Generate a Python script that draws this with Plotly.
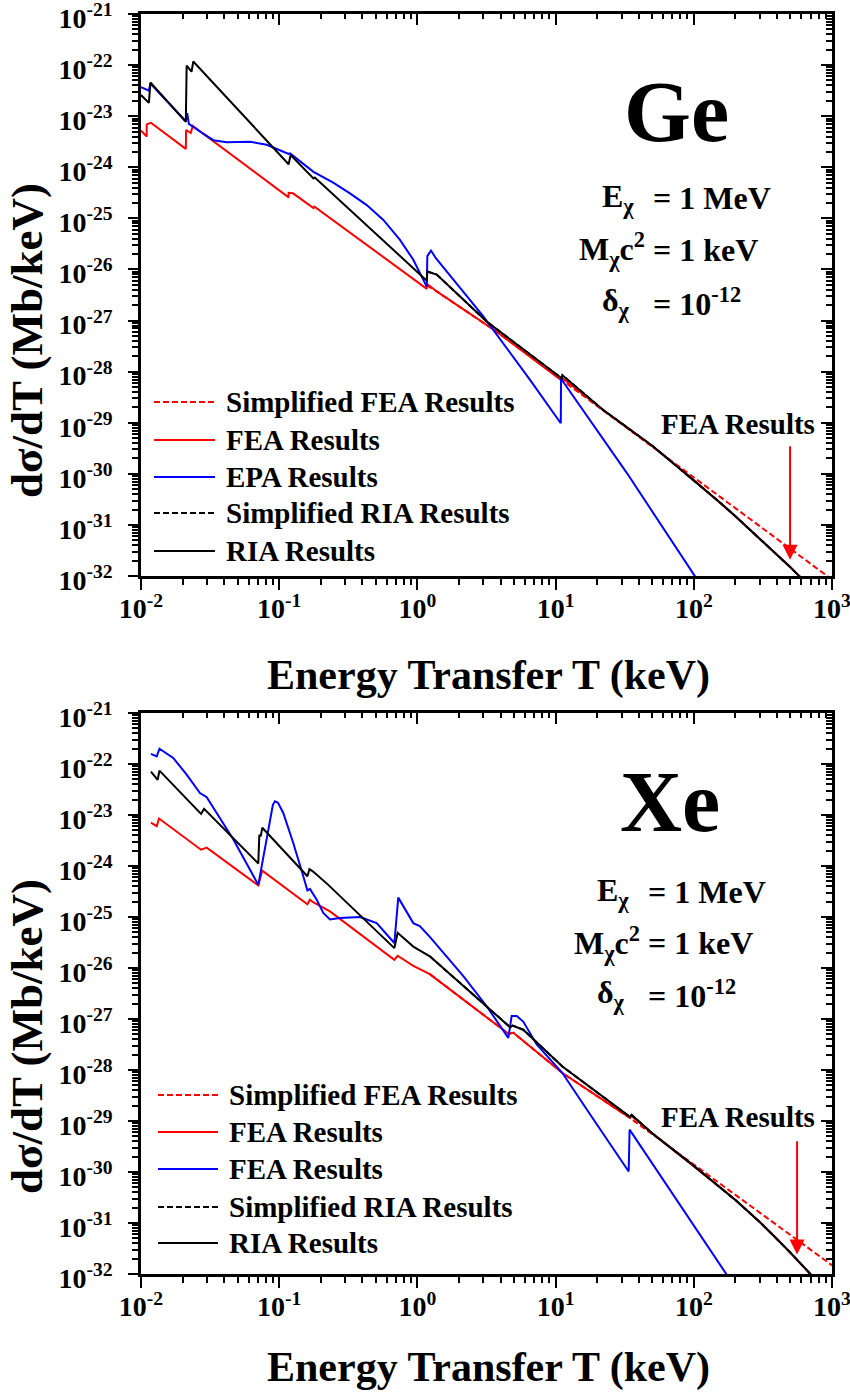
import numpy as np
import plotly.graph_objects as go

W, H = 850, 1396

# ---------------- Ge panel (T in keV ; values given as log10 of dσ/dT in Mb/keV) ----------------
ge_fea_T = [0.0100, 0.0110, 0.0110, 0.0118, 0.0211, 0.0212, 0.0229, 0.0237, 0.117, 0.117, 0.126,
            0.177, 0.180, 1.17, 1.17, 1.20, 1.38, 3.75, 11.0, 11.2, 22.1, 50, 100, 150, 200, 300, 400,
            500, 620]
ge_fea_log = [-23.28, -23.40, -23.16, -23.13, -23.64, -23.27, -23.33, -23.19, -24.59, -24.50, -24.51,
              -24.80, -24.77, -26.38, -26.31, -26.30, -26.43, -27.22, -28.17, -28.13, -28.75, -29.45,
              -30.12, -30.53, -30.83, -31.27, -31.58, -31.83, -32.08]

ge_sfea_T = [1.17, 1.38, 3.75, 11.07, 20, 50, 100, 200, 500, 1000]
ge_sfea_log = [-26.31, -26.43, -27.22, -28.16, -28.67, -29.47, -30.07, -30.67, -31.47, -32.07]

ge_epa_T = [0.0100, 0.0114, 0.0117, 0.0211, 0.0216, 0.0222, 0.0267, 0.0334, 0.0417, 0.0615, 0.0812,
            0.117, 0.120, 0.177, 0.246, 0.325, 0.430, 0.567, 0.748, 0.934, 1.17, 1.18, 1.254, 1.36,
            3.0, 6.53, 10.9, 10.95, 32.9, 101.6, 110]
ge_epa_log = [-22.43, -22.50, -22.36, -23.10, -22.94, -23.15, -23.30, -23.47, -23.51, -23.50, -23.56,
              -23.74, -23.73, -24.09, -24.30, -24.51, -24.74, -25.03, -25.42, -25.81, -26.34, -25.74,
              -25.63, -25.78, -26.92, -28.16, -29.01, -28.14, -29.99, -32.0, -32.14]

ge_ria_T = [0.0100, 0.0114, 0.0117, 0.0211, 0.0214, 0.0232, 0.0239, 0.117, 0.121, 0.177, 0.181, 1.17,
            1.18, 1.38, 3.17, 11.07, 11.2, 22.1, 50, 100, 150, 200, 300, 400, 500, 620]
ge_ria_log = [-22.585, -22.74, -22.34, -23.11, -22.01, -22.13, -21.93, -23.94, -23.76, -24.22, -24.20,
              -26.22, -26.04, -26.10, -27.02, -28.13, -28.07, -28.75, -29.45, -30.12, -30.53, -30.83,
              -31.27, -31.58, -31.83, -32.08]

ge_sria_T = [1.18, 1.38, 3.17, 11.07, 11.2, 22.1, 50, 100, 150, 200, 300, 400, 500, 620]
ge_sria_log = [-26.04, -26.10, -27.02, -28.13, -28.07, -28.75, -29.45, -30.12, -30.53, -30.83, -31.27,
               -31.58, -31.83, -32.08]

# ---------------- Xe panel ----------------
xe_fea_T = [0.0118, 0.0130, 0.0135, 0.0272, 0.0299, 0.0706, 0.0755, 0.160, 0.167, 0.176, 0.233, 0.681,
            0.720, 0.934, 1.23, 4.55, 4.95, 11.2, 34.5, 35.5, 50, 100, 150, 200, 300, 400, 500, 600,
            698, 750]
xe_fea_log = [-23.15, -23.22, -23.07, -23.68, -23.64, -24.38, -24.09, -24.75, -24.66, -24.71, -24.89,
              -25.84, -25.76, -25.96, -26.12, -27.29, -27.27, -28.06, -28.94, -28.90, -29.24, -29.88,
              -30.27, -30.55, -30.98, -31.31, -31.58, -31.81, -32.00, -32.09]

xe_sfea_T = [1.23, 4.55, 4.95, 11.2, 34.5, 100, 300, 1000]
xe_sfea_log = [-26.12, -27.29, -27.27, -28.06, -28.94, -29.85, -30.79, -31.83]

xe_epa_T = [0.0118, 0.0130, 0.0136, 0.0171, 0.0214, 0.0267, 0.0299, 0.0353, 0.0466, 0.0706, 0.0812,
            0.086, 0.090, 0.0932, 0.098, 0.107, 0.1264, 0.1494, 0.160, 0.167, 0.1867, 0.2085, 0.233,
            0.2754, 0.3843, 0.5075, 0.681, 0.727, 0.792, 0.934, 1.04, 1.23, 2.15, 3.17, 4.55, 4.81,
            5.23, 5.83, 7.30, 11.2, 18.5, 33.8, 34.3, 171, 185]
xe_epa_log = [-21.80, -21.85, -21.70, -21.88, -22.21, -22.57, -22.65, -22.96, -23.48, -24.37, -23.48,
              -23.09, -22.80, -22.73, -22.76, -22.96, -23.55, -24.20, -24.48, -24.45, -24.66, -24.92,
              -25.05, -25.02, -25.00, -25.12, -25.51, -24.62, -24.79, -25.12, -25.18, -25.39, -26.16,
              -26.75, -27.37, -26.94, -26.94, -27.05, -27.50, -28.06, -28.94, -29.99, -29.17, -32.00,
              -32.13]

xe_ria_T = [0.0118, 0.0132, 0.0136, 0.0272, 0.0286, 0.0706, 0.0718, 0.0735, 0.0755, 0.160, 0.1655,
            0.176, 0.2265, 0.681, 0.720, 0.934, 1.23, 4.68, 4.89, 5.83, 11.2, 34.5, 35.5, 50, 100, 150,
            200, 300, 400, 500, 600, 698, 750]
xe_ria_log = [-22.15, -22.31, -22.13, -22.98, -22.88, -23.95, -23.39, -23.42, -23.25, -24.20, -24.06,
              -24.11, -24.37, -25.61, -25.31, -25.58, -25.77, -27.16, -27.13, -27.21, -27.93, -28.92,
              -28.88, -29.24, -29.88, -30.27, -30.55, -30.98, -31.31, -31.58, -31.81, -32.00, -32.09]

xe_sria_T = [1.23, 4.68, 4.89, 5.83, 11.2, 34.5, 35.5, 50, 100, 150, 200, 300, 400, 500, 600, 698, 750]
xe_sria_log = [-25.77, -27.16, -27.13, -27.21, -27.93, -28.92, -28.88, -29.24, -29.88, -30.27, -30.55,
               -30.98, -31.31, -31.58, -31.81, -32.00, -32.09]

# FEA-results arrow markers: (T, log10 tail, log10 tip)
ge_arrow = (497, -29.43, -31.68)
xe_arrow = (559, -29.37, -31.62)

x_tickvals = [1e-2, 1e-1, 1e0, 1e1, 1e2, 1e3]
x_ticktext = ["10<sup>-2</sup>", "10<sup>-1</sup>", "10<sup>0</sup>", "10<sup>1</sup>",
              "10<sup>2</sup>", "10<sup>3</sup>"]
y_exps = list(range(-32, -20))
y_tickvals = [10.0 ** e for e in y_exps]
y_ticktext = ["10<sup>%d</sup>" % e for e in y_exps]

top_labels = ["Simplified FEA Results", "FEA Results", "EPA Results", "Simplified RIA Results", "RIA Results"]
bot_labels = ["Simplified FEA Results", "FEA Results", "FEA Results", "Simplified RIA Results", "RIA Results"]

RED, BLUE, BLACK = "#ff0000", "#0000ff", "#000000"
DASH = "6px,3px"
FONT = "Liberation Serif"

styles = [(RED, DASH), (RED, "solid"), (BLUE, "solid"), (BLACK, DASH), (BLACK, "solid")]


def px(x):
    return x / W


def py(y):
    return 1 - y / H


fig = go.Figure()

panels = [
    ("x", "y", top_labels,
     [(ge_sfea_T, ge_sfea_log), (ge_fea_T, ge_fea_log), (ge_epa_T, ge_epa_log),
      (ge_sria_T, ge_sria_log), (ge_ria_T, ge_ria_log)]),
    ("x2", "y2", bot_labels,
     [(xe_sfea_T, xe_sfea_log), (xe_fea_T, xe_fea_log), (xe_epa_T, xe_epa_log),
      (xe_sria_T, xe_sria_log), (xe_ria_T, xe_ria_log)]),
]

for xa, ya, labels, series in panels:
    for (T, lg), name, (col, dash) in zip(series, labels, styles):
        fig.add_trace(go.Scatter(x=T, y=[10.0 ** v for v in lg], mode="lines", name=name,
                                 line=dict(color=col, width=2, dash=dash),
                                 xaxis=xa, yaxis=ya, showlegend=False))

# invisible traces so that the inner-tick overlay axes exist
for xa, ya in [("x3", "y3"), ("x4", "y4")]:
    fig.add_trace(go.Scatter(x=[1], y=[1e-40], mode="markers", marker=dict(opacity=0),
                             xaxis=xa, yaxis=ya, showlegend=False, hoverinfo="skip"))

xdom = [px(141), px(832)]
top_ydom = [py(576), py(14)]
bot_ydom = [py(1274), py(713)]

tickfont = dict(family=FONT, size=28, color="black", weight="bold")


def xaxis_main(anchor):
    return dict(domain=xdom, anchor=anchor, type="log", range=[-2, 3], tickmode="array",
                tickvals=x_tickvals, ticktext=x_ticktext, ticks="outside", ticklen=11, tickwidth=2,
                tickcolor="black", showline=True, linewidth=2.5, linecolor="black", mirror=True,
                showgrid=False, zeroline=False, tickfont=tickfont, automargin=False,
                ticklabelstandoff=-5, ticklabeloverflow="allow",
                minor=dict(ticks="outside", ticklen=6, tickwidth=1.5, tickcolor="black", dtick="D1",
                           showgrid=False))


def yaxis_main(anchor, dom):
    return dict(domain=dom, anchor=anchor, type="log", range=[-32, -21], tickmode="array",
                tickvals=y_tickvals, ticktext=y_ticktext, ticks="outside", ticklen=10, tickwidth=2,
                tickcolor="black", showline=True, linewidth=2.5, linecolor="black", mirror=True,
                showgrid=False, zeroline=False, tickfont=tickfont, ticklabelstandoff=10,
                ticklabelshift=4, automargin=False, ticklabeloverflow="allow",
                minor=dict(ticks="outside", ticklen=6, tickwidth=1.5, tickcolor="black", dtick="D1",
                           showgrid=False))


def xaxis_top(over, anchor):
    return dict(overlaying=over, anchor=anchor, side="top", type="log", range=[-2, 3],
                tickmode="array", tickvals=x_tickvals, showticklabels=False, ticks="inside",
                ticklen=11, tickwidth=2, tickcolor="black", showline=False, showgrid=False,
                zeroline=False, automargin=False,
                minor=dict(ticks="inside", ticklen=5, tickwidth=1.5, tickcolor="black", dtick="D1",
                           showgrid=False))


def yaxis_right(over, anchor):
    return dict(overlaying=over, anchor=anchor, side="right", type="log", range=[-32, -21],
                tickmode="array", tickvals=y_tickvals, showticklabels=False, ticks="inside",
                ticklen=11, tickwidth=2, tickcolor="black", showline=False, showgrid=False,
                zeroline=False, automargin=False,
                minor=dict(ticks="inside", ticklen=6, tickwidth=1.5, tickcolor="black", dtick="D1",
                           showgrid=False))


annotations = []
shapes = []


def bold(size):
    return dict(family=FONT, size=size, color="black", weight="bold")


def panel_text(elem, elem_x, elem_y, eq_x, rows, leg_rows, leg_x0, leg_x1, leg_tx, labels,
               fea_y, arrow, xref, yref, xtitle_y, ytitle_y):
    annotations.append(dict(text=elem, x=px(elem_x), y=py(elem_y), xref="paper", yref="paper",
                            showarrow=False, xanchor="center", yanchor="middle", font=bold(86)))
    for (left, lx, right, ry) in rows:
        annotations.append(dict(text=left, x=px(lx), y=py(ry), xref="paper", yref="paper",
                                showarrow=False, xanchor="left", yanchor="middle", font=bold(32)))
        annotations.append(dict(text=right, x=px(eq_x), y=py(ry), xref="paper", yref="paper",
                                showarrow=False, xanchor="left", yanchor="middle", font=bold(32)))
    for ly, lab, (col, dash) in zip(leg_rows, labels, styles):
        shapes.append(dict(type="line", xref="paper", yref="paper", x0=px(leg_x0), x1=px(leg_x1),
                           y0=py(ly), y1=py(ly), line=dict(color=col, width=2, dash=dash)))
        annotations.append(dict(text=lab, x=px(leg_tx), y=py(ly), xref="paper", yref="paper",
                                showarrow=False, xanchor="left", yanchor="middle", font=bold(29)))
    annotations.append(dict(text="FEA Results", x=px(738), y=py(fea_y), xref="paper", yref="paper",
                            showarrow=False, xanchor="center", yanchor="middle", font=bold(29)))
    T, tail, tip = arrow
    annotations.append(dict(text="", x=np.log10(T), y=tip, ax=np.log10(T), ay=tail, xref=xref,
                            yref=yref, axref=xref, ayref=yref, showarrow=True, arrowhead=2,
                            arrowsize=1.5, arrowwidth=2, arrowcolor=RED))
    annotations.append(dict(text="Energy Transfer T (keV)", x=px(488), y=py(xtitle_y), xref="paper",
                            yref="paper", showarrow=False, xanchor="center", yanchor="middle",
                            font=bold(42)))
    annotations.append(dict(text="dσ/dT (Mb/keV)", x=px(27), y=py(ytitle_y), xref="paper",
                            yref="paper", showarrow=False, xanchor="center", yanchor="middle",
                            textangle=-90, font=bold(45)))


panel_text("Ge", 676, 112, 651,
           [("E<sub>χ</sub>", 600, "= 1 MeV", 198),
            ("M<sub>χ</sub>c<sup>2</sup>", 577, "= 1 keV", 250),
            ("δ<sub>χ</sub>", 600, "= 10<sup>-12</sup>", 302)],
           [402, 440, 477, 513, 551], 154, 215, 224, top_labels,
           424, ge_arrow, "x", "y", 676, 341)

panel_text("Xe", 670, 802, 646,
           [("E<sub>χ</sub>", 595, "= 1 MeV", 892),
            ("M<sub>χ</sub>c<sup>2</sup>", 572, "= 1 keV", 943),
            ("δ<sub>χ</sub>", 595, "= 10<sup>-12</sup>", 994)],
           [1095, 1132, 1169, 1207, 1243], 158, 218, 227, bot_labels,
           1117, xe_arrow, "x2", "y2", 1367, 1037)

fig.update_layout(
    width=W, height=H,
    margin=dict(l=0, r=0, t=0, b=0, pad=0, autoexpand=False),
    paper_bgcolor="white", plot_bgcolor="white",
    showlegend=False,
    font=dict(family=FONT, color="black"),
    xaxis=xaxis_main("y"),
    yaxis=yaxis_main("x", top_ydom),
    xaxis2=xaxis_main("y2"),
    yaxis2=yaxis_main("x2", bot_ydom),
    xaxis3=xaxis_top("x", "y3"),
    yaxis3=yaxis_right("y", "x3"),
    xaxis4=xaxis_top("x2", "y4"),
    yaxis4=yaxis_right("y2", "x4"),
    annotations=annotations,
    shapes=shapes,
)

fig.write_html("out.html", config={"displayModeBar": False},
               post_script="document.body.style.margin='0px';")
